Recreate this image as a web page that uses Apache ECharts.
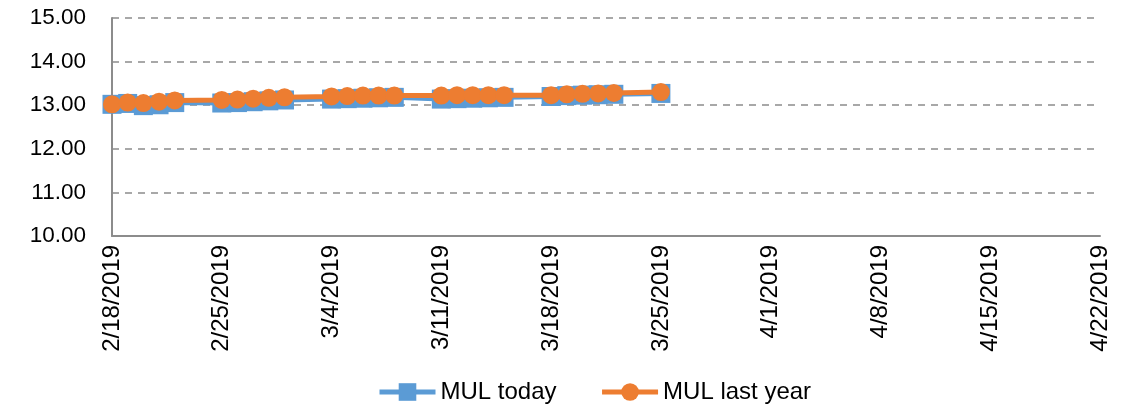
<!DOCTYPE html>
<html>
<head>
<meta charset="utf-8">
<script src="https://cdn.jsdelivr.net/npm/echarts@6/dist/echarts.min.js"></script>
<style>
html,body{margin:0;padding:0;background:#fff;}
#chart{width:1129px;height:409px;}
</style>
</head>
<body>
<div id="chart"></div>
<script>
const startDate = '2019-02-18';
const dates = [
  '2019-02-18','2019-02-19','2019-02-20','2019-02-21','2019-02-22',
  '2019-02-25','2019-02-26','2019-02-27','2019-02-28','2019-03-01',
  '2019-03-04','2019-03-05','2019-03-06','2019-03-07','2019-03-08',
  '2019-03-11','2019-03-12','2019-03-13','2019-03-14','2019-03-15',
  '2019-03-18','2019-03-19','2019-03-20','2019-03-21','2019-03-22',
  '2019-03-25'
];
const mulToday = [
  13.02, 13.04, 12.99, 13.01, 13.06,
  13.05, 13.06, 13.08, 13.10, 13.12,
  13.14, 13.15, 13.16, 13.17, 13.18,
  13.14, 13.15, 13.16, 13.17, 13.18,
  13.20, 13.22, 13.23, 13.24, 13.25,
  13.27
];
const mulLastYear = [
  13.02, 13.06, 13.05, 13.08, 13.11,
  13.12, 13.13, 13.15, 13.17, 13.18,
  13.20, 13.21, 13.22, 13.22, 13.22,
  13.22, 13.23, 13.23, 13.23, 13.23,
  13.23, 13.25, 13.26, 13.27, 13.28,
  13.30
];
const seriesNames = ['MUL today', 'MUL last year'];

const DAY = 86400000;
const t0 = Date.parse(startDate + 'T00:00:00Z');
function dayIndex(d){ return Math.round((Date.parse(d + 'T00:00:00Z') - t0) / DAY); }
function fmtDay(v){
  const d = new Date(t0 + v * DAY);
  return (d.getUTCMonth() + 1) + '/' + d.getUTCDate() + '/' + d.getUTCFullYear();
}
const xs = dates.map(dayIndex);
const font = 'Liberation Sans';

const chart = echarts.init(document.getElementById('chart'), null, {renderer: 'canvas'});
chart.setOption({
  animation: false,
  textStyle: {fontFamily: font},
  grid: {left: 112, right: 29, top: 18, bottom: 173, containLabel: false},
  legend: {
    top: 380,
    left: 377,
    itemWidth: 56,
    itemHeight: 22,
    itemGap: 43,
    padding: 0,
    lineStyle: {width: 5},
    textStyle: {fontFamily: font, fontSize: 24, color: '#000'},
    data: seriesNames
  },
  xAxis: {
    type: 'value',
    min: 0, max: 63, interval: 7,
    axisLine: {show: true, lineStyle: {color: '#8c8c8c', width: 2}},
    axisTick: {show: false},
    splitLine: {show: false},
    axisLabel: {rotate: 90, fontSize: 24, color: '#000', margin: 9, formatter: fmtDay, fontFamily: font}
  },
  yAxis: {
    type: 'value',
    min: 10, max: 15, interval: 1,
    axisLine: {show: true, lineStyle: {color: '#8c8c8c', width: 2}},
    axisTick: {show: false},
    splitLine: {show: true, lineStyle: {color: '#8c8c8c', type: [7, 6], width: 1.5}},
    axisLabel: {fontSize: 22.5, color: '#000', margin: 26, formatter: v => v.toFixed(2), fontFamily: font}
  },
  series: [
    {
      name: seriesNames[0], type: 'line',
      data: xs.map((x, i) => [x, mulToday[i]]),
      symbol: 'rect', symbolSize: 19,
      lineStyle: {color: '#5b9bd5', width: 5},
      itemStyle: {color: '#5b9bd5'},
      z: 2
    },
    {
      name: seriesNames[1], type: 'line',
      data: xs.map((x, i) => [x, mulLastYear[i]]),
      symbol: 'circle', symbolSize: 18,
      lineStyle: {color: '#ed7d31', width: 5},
      itemStyle: {color: '#ed7d31'},
      z: 3
    }
  ]
});
</script>
</body>
</html>
